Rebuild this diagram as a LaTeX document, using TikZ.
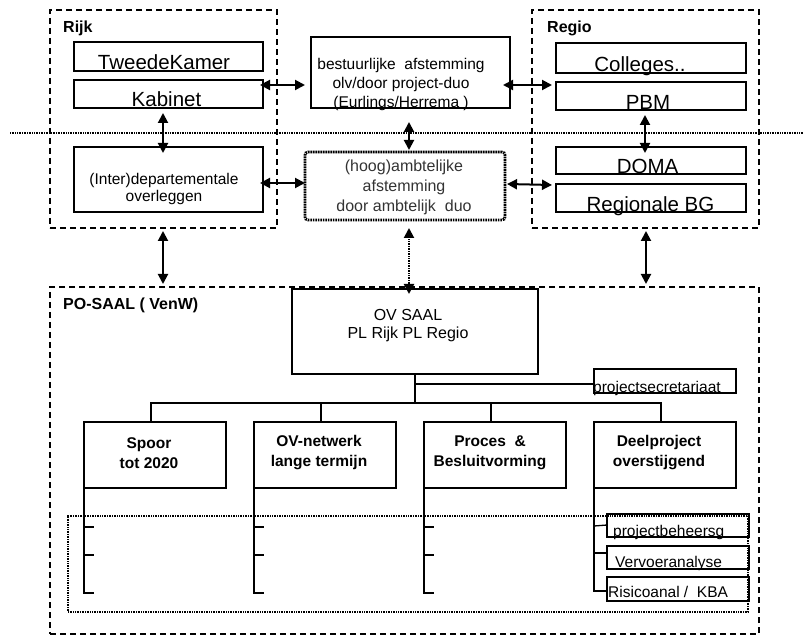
\documentclass[tikz,border=0pt]{standalone}
\usepackage{fontspec}
\setmainfont{Liberation Sans}
\usetikzlibrary{arrows.meta,calc}
\begin{document}
\begin{tikzpicture}[x=1pt,y=-1pt,
  box/.style={draw,line width=1.3pt,inner sep=0pt,outer sep=0pt,anchor=north west},
  grp/.style={draw,line width=2pt,dash pattern=on 6pt off 4pt,inner sep=0pt,outer sep=0pt,anchor=north west},
  dotbox/.style={draw,line width=1.7pt,dash pattern=on 1pt off 0.7pt,inner sep=0pt,outer sep=0pt,anchor=north west},
  hoogbox/.style={draw,line width=2.8pt,dash pattern=on 1.6pt off 0.9pt,rounded corners=3pt,inner sep=0pt,outer sep=0pt,anchor=north west},
  arr/.style={line width=2pt,{Triangle[length=10pt,width=10pt]}-{Triangle[length=10pt,width=10pt]}},
  darr/.style={arr,dash pattern=on 1pt off 0.7pt},
  dotline/.style={line width=1.7pt,dash pattern=on 1pt off 0.7pt},
  tree/.style={line width=1.3pt},
  big/.style={font=\fontsize{20.5}{22}\selectfont,inner sep=0pt,anchor=base},
  txt/.style={font=\fontsize{15.5}{19}\selectfont,align=center,inner sep=0pt},
  small/.style={font=\fontsize{15.5}{18}\selectfont,inner sep=0pt,anchor=base west},
  bold/.style={font=\bfseries\fontsize{15.5}{20}\selectfont,align=center,inner sep=0pt},
  glabel/.style={font=\bfseries\fontsize{16}{18}\selectfont,inner sep=0pt,anchor=base west}
]
\useasboundingbox (0,0) rectangle (803,636);

% dotted separation line
\coordinate (dl1) at (10,133);
\coordinate (dl2) at (803,133);
\draw[dotline] (dl1) -- (dl2);

% group boxes
\node[grp,minimum width=227,minimum height=218] (rijk) at (50,10) {};
\node[grp,minimum width=227,minimum height=218] (regio) at (532,10) {};
\node[grp,minimum width=709,minimum height=347] (po) at (50,287) {};
\node[glabel] (rijkL) at ($(rijk.north west)+(13,23)$) {Rijk};
\node[glabel] (regioL) at ($(regio.north west)+(15,23)$) {Regio};
\node[glabel] (poL) at ($(po.north west)+(13,22)$) {PO-SAAL ( VenW)};

% Rijk
\node[box,minimum width=189,minimum height=29] (tk) at (74,42) {};
\node[big] (tkL) at ($(tk.south)+(-4.5,-1)$) {TweedeKamer};
\node[box,minimum width=189,minimum height=28] (kab) at (74,80) {};
\node[big] (kabL) at ($(kab.south)+(-2,-1)$) {Kabinet};
\node[box,minimum width=189,minimum height=65] (inter) at (74,147) {};
\node[txt,font=\fontsize{15.5}{17}\selectfont] (interL) at ($(inter.center)+(-4.5,9)$) {(Inter)departementale\\overleggen};

% middle
\node[box,minimum width=199,minimum height=71] (best) at (311,37) {};
\node[txt] (bestL) at ($(best.center)+(-9.5,11.5)$) {bestuurlijke\ \ afstemming\\olv/door project-duo\\(Eurlings/Herrema )};
\node[hoogbox,minimum width=200,minimum height=68] (hoog) at (305,152) {};
\node[txt,text=black!80,font=\fontsize{16}{20}\selectfont] (hoogL) at ($(hoog.center)+(-1,1)$) {(hoog)ambtelijke\\afstemming\\door ambtelijk\ \ duo};

% Regio
\node[box,minimum width=190,minimum height=30] (col) at (556,43) {};
\node[big] (colL) at ($(col.south)+(-11,-1)$) {Colleges..};
\node[box,minimum width=190,minimum height=28] (pbm) at (556,82) {};
\node[big] (pbmL) at ($(pbm.south)+(-3,0)$) {PBM};
\node[box,minimum width=190,minimum height=27] (doma) at (556,147) {};
\node[big] (domaL) at ($(doma.south)+(-3.5,0)$) {DOMA};
\node[box,minimum width=190,minimum height=28] (regbg) at (556,184) {};
\node[big] (regbgL) at ($(regbg.south)+(-0.5,0)$) {Regionale BG};

% arrows top part
\draw[arr] ($(kab.north east)+(-3,5)$) -- ($(best.north west)+(-6,48)$);
\draw[arr] ($(best.north east)+(-7,48)$) -- ($(pbm.north west)+(-4,3)$);
\draw[arr] ($(inter.north east)+(-3,36)$) -- ($(hoog.north west)+(0,31)$);
\draw[arr] ($(hoog.north east)+(2,32)$) -- ($(regbg.north west)+(-4,1)$);
\draw[arr] ($(kab.south)+(-5.5,5)$) -- ($(inter.north)+(-5.5,6)$);
\draw[arr] ($(pbm.south)+(-6,5)$) -- ($(doma.north)+(-6,6)$);
\draw[arr] ($(best.south)+(-1.5,14)$) -- ($(hoog.north)+(4,-2)$);
\draw[arr] ($(rijk.south)+(-0.5,3)$) -- ($(po.north west)+(113,-3)$);
\draw[arr] ($(regio.south)+(0.5,3)$) -- ($(po.north east)+(-113,-3)$);

% OV SAAL
\node[box,minimum width=246,minimum height=85] (ov) at (292,289) {};
\node[txt,font=\fontsize{16}{18}\selectfont] (ovL) at ($(ov.center)+(-7,-5.5)$) {OV SAAL\\PL Rijk PL Regio};
\draw[darr] ($(hoog.south)+(4,8)$) -- ($(ov.north)+(-6,5)$);

\node[box,minimum width=142,minimum height=24] (ps) at (594,369) {};
\node[small] (psL) at ($(ps.south west)+(-1,-1)$) {projectsecretariaat};

% four project boxes
\node[box,minimum width=142,minimum height=66] (sp) at (84,422) {};
\node[box,minimum width=142,minimum height=66] (ovn) at (254,422) {};
\node[box,minimum width=142,minimum height=66] (pr) at (424,422) {};
\node[box,minimum width=142,minimum height=66] (dp) at (594,422) {};
\node[bold] (spL) at ($(sp.center)+(-6,-2)$) {Spoor\\tot 2020};
\node[bold] (ovnL) at ($(ovn.center)+(-6,-2)$) {OV-netwerk\\lange termijn};
\node[bold] (prL) at ($(pr.center)+(-5,-2)$) {Proces \ \&\\Besluitvorming};
\node[bold] (dpL) at ($(dp.center)+(-6,-2)$) {Deelproject\\overstijgend};

% tree
\coordinate (bus) at ($(ov.south)+(0,29)$);
\draw[tree] (ov.south) -- (bus);
\draw[tree] ($(ov.south)+(0,10)$) coordinate (br) -- (br -| ps.west);
\draw[tree] ($(sp.north)+(-4,0)$) -- ($(sp.north)+(-4,-19)$) -- ($(dp.north)+(-4,-19)$) -- ($(dp.north)+(-4,0)$);
\draw[tree] ($(ovn.north)+(-4,0)$) -- ($(ovn.north)+(-4,-19)$);
\draw[tree] ($(pr.north)+(-4,0)$) -- ($(pr.north)+(-4,-19)$);

% dotted region
\node[dotbox,minimum width=680,minimum height=96] (dots) at (68,516) {};

% rails
\foreach \b in {sp,ovn,pr}{
  \draw[tree] (\b.south west) -- ++(0,105) -- ++(10,0);
  \draw[tree] ($(\b.south west)+(0,39)$) -- ++(10,0);
  \draw[tree] ($(\b.south west)+(0,67)$) -- ++(10,0);
}

% sub boxes Deelproject
\node[box,minimum width=142,minimum height=23] (pb) at (607,514) {};
\node[box,minimum width=142,minimum height=23] (va) at (607,546) {};
\node[box,minimum width=142,minimum height=24] (ra) at (607,577) {};
\node[small] (pbL) at ($(pb.south west)+(6,-1)$) {projectbeheersg};
\node[small] (vaL) at ($(va.south west)+(8,-2)$) {Vervoeranalyse};
\node[small] (raL) at ($(ra.south west)+(1,-4)$) {Risicoanal /\ \ KBA};
\draw[tree] (dp.south west) -- ($(dp.south west)+(0,103)$) -- ($(ra.north west)+(0,14)$);
\draw[tree] ($(dp.south west)+(0,38)$) -- ($(pb.north west)+(0,11)$);
\draw[tree] ($(dp.south west)+(0,65)$) -- ($(va.north west)+(0,7)$);
\end{tikzpicture}
\end{document}
